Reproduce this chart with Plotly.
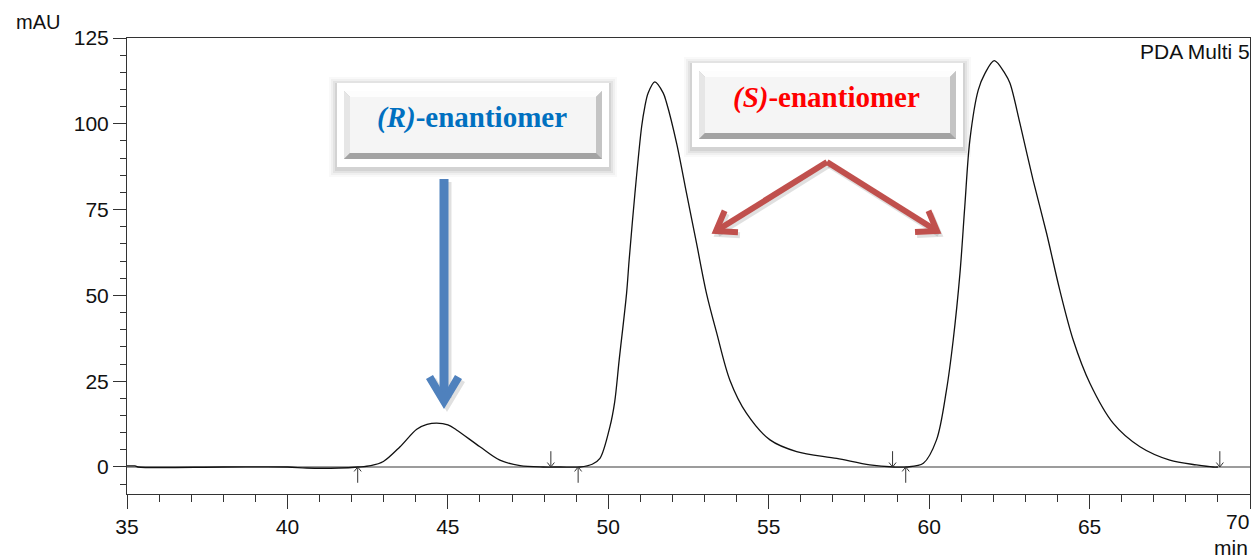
import math
import plotly.graph_objects as go

# ---------------- data ----------------
time_min = [35.0, 35.25, 35.35, 38.0, 40.0, 40.6, 41.6, 42.2, 42.6, 42.99, 43.51, 44.03, 44.35,
            44.65, 45.0, 45.27, 46.0, 46.62, 47.25, 47.97, 48.5, 49.12, 49.5, 49.74, 50.05,
            50.2, 50.34, 50.57, 50.65, 50.83, 51.04, 51.14, 51.24, 51.45, 51.71, 51.82, 52.13,
            52.44, 52.75, 53.06, 53.38, 53.79, 54.31, 55.04, 55.87, 57.12, 58.15, 58.9, 59.3,
            59.82, 60.23, 60.54, 60.75, 60.96, 61.11, 61.27, 61.53, 61.74, 62.03, 62.36, 62.52,
            62.83, 63.24, 63.66, 64.07, 64.49, 65.01, 65.74, 66.57, 67.5, 68.33, 68.85, 69.0]
absorbance = [0.3, 0.3, 0.0, 0.0, 0.0, -0.3, -0.3, 0.0, 0.4, 1.6, 5.9, 11.0, 12.4,
              12.8, 12.3, 10.8, 5.9, 2.0, 0.4, 0.0, 0.0, 0.0, 0.8, 2.5, 11.7,
              19.0, 31.2, 50.6, 60.3, 79.7, 99.2, 105.0, 108.9, 112.2, 109.0, 106.0, 94.3,
              79.7, 65.2, 50.6, 39.0, 25.3, 15.6, 7.9, 4.5, 2.5, 0.6, 0.0, 0.0,
              1.1, 7.9, 22.4, 37.0, 56.4, 75.8, 95.3, 109.8, 114.7, 118.4, 114.7, 111.8,
              100.1, 83.6, 68.1, 51.6, 37.0, 24.4, 12.7, 5.9, 2.0, 0.6, 0.0, 0.0]

baseline_x = [35, 70]
baseline_y = [0, 0]

peak_start_marks = [42.19, 49.06, 59.27]   # up arrows
peak_end_marks = [48.21, 58.86, 69.06]     # down arrows

x_ticks = [35, 40, 45, 50, 55, 60, 65, 70]
x_tick_text = ["35", "40", "45", "50", "55", "60", "65", ""]
y_ticks = [0, 25, 50, 75, 100, 125]

label_r = "<b><i>(R)</i>-enantiomer</b>"
label_s = "<b><i>(S)</i>-enantiomer</b>"

# ---------------- layout geometry ----------------
W, H = 1255, 559
PL, PT, PR, PB = 127, 38, 1250, 494   # plot area in screen pixels
ML, MT = PL, PT
MR = W - PR
MB = H - PB
PW = PR - PL
PH = PB - PT


def X(px):
    return (px - PL) / PW


def Y(py):
    return (PB - py) / PH


def ppath(points, close=True):
    s = "M " + " L ".join(f"{X(a):.5f},{Y(b):.5f}" for a, b in points)
    return s + (" Z" if close else "")


shapes = []


def rect_px(x0, y0, x1, y1, fill, opacity=1.0):
    shapes.append(dict(type="rect", xref="paper", yref="paper",
                       x0=X(x0), x1=X(x1), y0=Y(y1), y1=Y(y0),
                       fillcolor=fill, opacity=opacity, line=dict(width=0), layer="above"))


def poly_px(points, fill):
    shapes.append(dict(type="path", xref="paper", yref="paper", path=ppath(points),
                       fillcolor=fill, line=dict(width=0), layer="above"))


def line_px(points, color, width):
    shapes.append(dict(type="path", xref="paper", yref="paper", path=ppath(points, close=False),
                       line=dict(color=color, width=width), fillcolor="rgba(0,0,0,0)", layer="above"))


def button(ox0, oy0, ox1, oy1, ix0, iy0, ix1, iy1):
    # soft shadow
    for d, op in [(8, 0.025), (6, 0.035), (4, 0.05), (2, 0.07)]:
        rect_px(ox0 - d, oy0 - d + 2, ox1 + d, oy1 + d + 2, "#000000", op)
    rect_px(ox0, oy0, ox1, oy1, "#ffffff")
    b = 6
    rect_px(ix0, iy0, ix1, iy1, "#bdbdbd")
    poly_px([(ix0, iy0), (ix1, iy0), (ix1 - b, iy0 + b), (ix0 + b, iy0 + b)], "#fdfdfd")
    poly_px([(ix0, iy0), (ix0 + b, iy0 + b), (ix0 + b, iy1 - b), (ix0, iy1)], "#e6e6e6")
    poly_px([(ix1, iy0), (ix1, iy1), (ix1 - b, iy1 - b), (ix1 - b, iy0 + b)], "#c4c4c4")
    poly_px([(ix0, iy1), (ix1, iy1), (ix1 - b, iy1 - b), (ix0 + b, iy1 - b)], "#a3a3a3")
    rect_px(ix0 + b, iy0 + b, ix1 - b, iy1 - b, "#f5f5f5")


button(337, 83, 609, 167, 344, 91, 602, 159)
button(692, 63, 963, 147, 699, 71, 956, 139)

# blue arrow (R)
blue = "#4F81BD"
shadow = "rgba(0,0,0,0.12)"
line_px([(447, 182), (447, 398)], shadow, 9)
poly_px([(429, 382), (447, 412), (465, 382), (458, 378), (447, 397), (436, 378)], shadow)
line_px([(444, 179), (444, 396)], blue, 9)
poly_px([(426, 379), (444, 409), (462, 379), (455, 375), (444, 394), (433, 375)], blue)

# red arrows (S)
red = "#C0504D"


def red_arrow(ax, ay, tx, ty, color, width, dx=0, dy=0):
    ux, uy = tx - ax, ty - ay
    n = math.hypot(ux, uy)
    ux, uy = ux / n, uy / n
    arms = []
    for ang in (35, -35):
        c, s = math.cos(math.radians(ang)), math.sin(math.radians(ang))
        rx, ry = ux * c - uy * s, ux * s + uy * c
        arms.append((tx - 22 * rx + dx, ty - 22 * ry + dy))
    line_px([(ax + dx, ay + dy), (tx + dx, ty + dy)], color, width)
    line_px([arms[0], (tx + dx, ty + dy), arms[1]], color, width)


red_arrow(827, 162, 716, 231, shadow, 6, 2, 3)
red_arrow(827, 162, 937, 231, shadow, 6, 2, 3)
red_arrow(827, 162, 716, 231, red, 6)
red_arrow(827, 162, 937, 231, red, 6)

# peak start / end markers (data coordinates)
mark_col = "#333333"
hw, hh, L_ = 0.11, 1.3, 4.6
for xm in peak_start_marks:
    shapes.append(dict(type="path", xref="x", yref="y",
                       path=f"M {xm},{-L_} L {xm},0 M {xm-hw},{-hh} L {xm},0 L {xm+hw},{-hh}",
                       line=dict(color=mark_col, width=1), layer="above"))
for xm in peak_end_marks:
    shapes.append(dict(type="path", xref="x", yref="y",
                       path=f"M {xm},{L_} L {xm},0 M {xm-hw},{hh} L {xm},0 L {xm+hw},{hh}",
                       line=dict(color=mark_col, width=1), layer="above"))

# ---------------- figure ----------------
fig = go.Figure()
fig.add_trace(go.Scatter(x=baseline_x, y=baseline_y, mode="lines",
                         line=dict(color="#3a3a3a", width=1.2), hoverinfo="skip", showlegend=False))
fig.add_trace(go.Scatter(x=time_min, y=absorbance, mode="lines",
                         line=dict(color="#111111", width=1.3, shape="spline", smoothing=0.9),
                         showlegend=False))

axis_font = dict(family="Liberation Sans, Arial, sans-serif", size=21, color="#111111")
serif = "Liberation Serif, Times New Roman, serif"

annotations = [
    dict(text="mAU", xref="paper", yref="paper", x=X(38), y=Y(22), xanchor="center", yanchor="middle",
         showarrow=False, font=dict(family=axis_font["family"], size=20, color="#111")),
    dict(text="PDA Multi 5", xref="paper", yref="paper", x=X(1252), y=Y(52), xanchor="right",
         yanchor="middle", showarrow=False, font=dict(family=axis_font["family"], size=21, color="#111")),
    dict(text="min", xref="paper", yref="paper", x=X(1250), y=Y(547), xanchor="right",
         yanchor="middle", showarrow=False, font=dict(family=axis_font["family"], size=21, color="#111")),
    dict(text="70", xref="paper", yref="paper", x=X(1251), y=Y(521), xanchor="right",
         yanchor="middle", showarrow=False, font=axis_font),
    dict(text=label_r, xref="paper", yref="paper", x=X(472), y=Y(117), xanchor="center",
         yanchor="middle", showarrow=False, font=dict(family=serif, size=29, color="#0070C0")),
    dict(text=label_s, xref="paper", yref="paper", x=X(826), y=Y(97), xanchor="center",
         yanchor="middle", showarrow=False, font=dict(family=serif, size=29, color="#FF0000")),
]

fig.update_layout(
    width=W, height=H,
    margin=dict(l=ML, r=MR, t=MT, b=MB, pad=0),
    paper_bgcolor="white", plot_bgcolor="white",
    shapes=shapes, annotations=annotations,
    showlegend=False,
    xaxis=dict(range=[35, 70], tickvals=x_ticks, ticktext=x_tick_text, ticks="outside", ticklen=14,
               tickcolor="#333", tickwidth=1, showgrid=False, zeroline=False, showline=True,
               linecolor="#333", linewidth=1, mirror=True, tickfont=axis_font, automargin=False,
               minor=dict(dtick=1, ticks="outside", ticklen=7, tickcolor="#333", tickwidth=1,
                          showgrid=False)),
    yaxis=dict(range=[-7.87, 125], tickvals=y_ticks, ticks="outside", ticklen=13,
               tickcolor="#333", tickwidth=1, showgrid=False, zeroline=False, showline=True,
               linecolor="#333", linewidth=1, mirror=True, tickfont=axis_font, automargin=False,
               minor=dict(dtick=5, ticks="outside", ticklen=6, tickcolor="#333", tickwidth=1,
                          showgrid=False)),
)

fig.write_html(
    "out.html",
    config={"displayModeBar": False},
    post_script="document.documentElement.style.overflow='hidden';"
                "document.body.style.overflow='hidden';"
                "document.body.style.margin='0';",
)
